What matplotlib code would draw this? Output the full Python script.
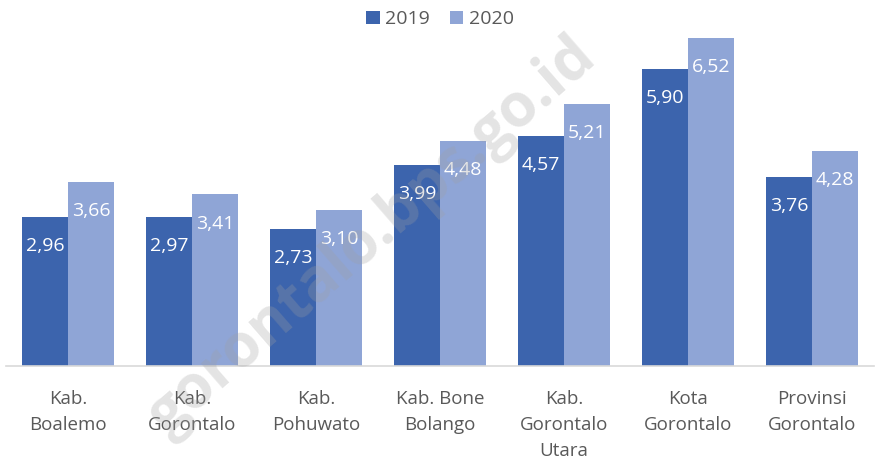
import numpy as np
import matplotlib.pyplot as plt

# data
categories = ["Kab.\nBoalemo", "Kab.\nGorontalo", "Kab.\nPohuwato", "Kab. Bone\nBolango",
              "Kab.\nGorontalo\nUtara", "Kota\nGorontalo", "Provinsi\nGorontalo"]
vals_2019 = [2.96, 2.97, 2.73, 3.99, 4.57, 5.90, 3.76]
vals_2020 = [3.66, 3.41, 3.10, 4.48, 5.21, 6.52, 4.28]
series_names = ["2019", "2020"]

c_dark = "#3C64AD"
c_light = "#8FA5D6"

plt.rcParams['font.family'] = ['Open Sans', 'DejaVu Sans']

fig = plt.figure(figsize=(8.77, 4.65), dpi=100)
ax = fig.add_axes([0.0068, 0.213, 0.99, 0.757])

x = np.arange(len(categories))
w = 0.37
b1 = ax.bar(x - w / 2, vals_2019, w, color=c_dark, label=series_names[0])
b2 = ax.bar(x + w / 2, vals_2020, w, color=c_light, label=series_names[1])

for bars, vals in [(b1, vals_2019), (b2, vals_2020)]:
    for rect, v in zip(bars, vals):
        ax.annotate(f"{v:.2f}".replace(".", ","),
                    (rect.get_x() + rect.get_width() / 2, v),
                    xytext=(0, -21), textcoords="offset points",
                    ha="center", va="center", color="white", fontsize=14)

ax.set_xlim(-0.5, len(categories) - 0.5)
ax.set_ylim(0, 7)
ax.set_xticks(x)
ax.set_xticklabels(categories, fontsize=13.5, color="#595959", linespacing=1.6, va="top")
ax.tick_params(axis="x", length=0, pad=17)
ax.set_yticks([])
for s in ["top", "right", "left"]:
    ax.spines[s].set_visible(False)
ax.spines["bottom"].set_color("#D9D9D9")
ax.spines["bottom"].set_linewidth(1.2)

ax.legend(loc="upper center", bbox_to_anchor=(0.5, 1.06), ncol=2, frameon=False,
          fontsize=14, handlelength=0.7, handleheight=0.7, handletextpad=0.3,
          columnspacing=1.0, labelcolor="#595959")

# watermark
fig.text(0.425, 0.49, "gorontalo.bps.go.id", rotation=41, fontsize=43, fontweight="bold",
         color="#A0A0A0", alpha=0.28, ha="center", va="center")

plt.savefig("out.png", dpi=100)
